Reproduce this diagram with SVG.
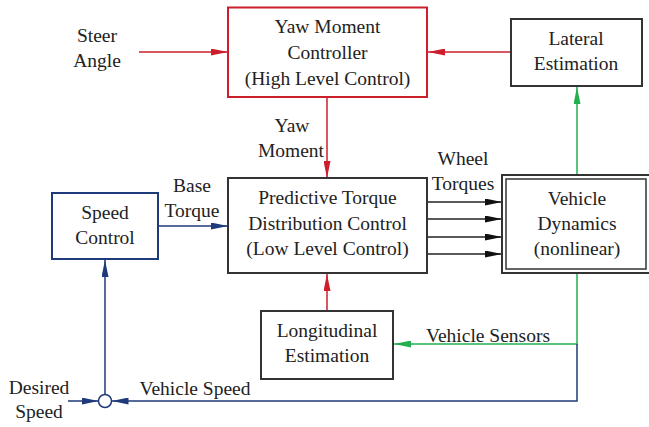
<svg xmlns="http://www.w3.org/2000/svg" width="649" height="427" viewBox="0 0 649 427">
<defs>
<style>
.box{fill:#fff;stroke:#333;stroke-width:2}
.red{stroke:#cc1f2b}
.blue{stroke:#1e3a7a}
</style>
<marker id="ar" markerUnits="userSpaceOnUse" markerWidth="17" markerHeight="7" refX="17" refY="3.5" orient="auto"><path d="M0,0 L17,3.5 L0,7 z" fill="#cc1f2b"/></marker>
<marker id="ab" markerUnits="userSpaceOnUse" markerWidth="17" markerHeight="7" refX="17" refY="3.5" orient="auto"><path d="M0,0 L17,3.5 L0,7 z" fill="#1e3a7a"/></marker>
<marker id="ag" markerUnits="userSpaceOnUse" markerWidth="17" markerHeight="7" refX="17" refY="3.5" orient="auto"><path d="M0,0 L17,3.5 L0,7 z" fill="#22b04f"/></marker>
<marker id="ak" markerUnits="userSpaceOnUse" markerWidth="17" markerHeight="7" refX="17" refY="3.5" orient="auto"><path d="M0,0 L17,3.5 L0,7 z" fill="#111"/></marker>
</defs>
<rect width="649" height="427" fill="#fff"/>
<g id="connectors" fill="none" stroke-width="1.5">
<g stroke="#cc1f2b" marker-end="url(#ar)">
<line x1="139" y1="52" x2="228" y2="52"/>
<line x1="511" y1="52" x2="428" y2="52"/>
<line x1="327" y1="97" x2="327" y2="178"/>
<line x1="327" y1="311" x2="327" y2="274"/>
</g>
<g stroke="#222" marker-end="url(#ak)">
<line x1="427" y1="202" x2="502" y2="202"/>
<line x1="427" y1="219" x2="502" y2="219"/>
<line x1="427" y1="237" x2="502" y2="237"/>
<line x1="427" y1="254" x2="502" y2="254"/>
</g>
<g stroke="#22b04f" marker-end="url(#ag)">
<line x1="577" y1="175" x2="577" y2="87"/>
<polyline points="577,273 577,344 394,344"/>
</g>
<g stroke="#1e3a7a" marker-end="url(#ab)">
<line x1="158" y1="226" x2="228" y2="226"/>
<polyline points="577,344 577,401 111.5,401"/>
<line x1="68" y1="401" x2="98.5" y2="401"/>
<line x1="105" y1="395" x2="105" y2="260"/>
</g>
<circle cx="105" cy="401" r="6.5" fill="#fff" stroke="#1e3a7a"/>
</g>
<g font-family="Liberation Serif, serif" font-size="19.5" fill="#222" text-anchor="middle">
<g id="labels">
<text x="97" y="42">Steer</text>
<text x="97" y="67">Angle</text>
<text x="292" y="132">Yaw</text>
<text x="291" y="157">Moment</text>
<text x="192" y="192">Base</text>
<text x="192" y="217">Torque</text>
<text x="463" y="165">Wheel</text>
<text x="463" y="190">Torques</text>
<text x="488" y="342">Vehicle Sensors</text>
<text x="195" y="395">Vehicle Speed</text>
<text x="39" y="394">Desired</text>
<text x="39" y="418">Speed</text>
</g>
<g id="yaw-controller">
<rect class="box red" x="228" y="7.5" width="199" height="89.5"/>
<text x="327.5" y="33">Yaw Moment</text>
<text x="327.5" y="59">Controller</text>
<text x="327.5" y="85">(High Level Control)</text>
</g>
<g id="lateral-estimation">
<rect class="box" x="511" y="19" width="131" height="67"/>
<text x="576" y="45">Lateral</text>
<text x="576" y="70">Estimation</text>
</g>
<g id="torque-distribution">
<rect class="box" x="228" y="178" width="199" height="95"/>
<text x="327.5" y="204">Predictive Torque</text>
<text x="327.5" y="230">Distribution Control</text>
<text x="327.5" y="255">(Low Level Control)</text>
</g>
<g id="speed-control">
<rect class="box blue" x="52" y="193" width="106" height="66"/>
<text x="105" y="219">Speed</text>
<text x="105" y="244">Control</text>
</g>
<g id="vehicle-dynamics">
<rect class="box" x="502" y="175" width="150" height="98"/>
<rect x="506" y="179" width="140" height="90" fill="none" stroke="#333" stroke-width="1.5"/>
<text x="577" y="205">Vehicle</text>
<text x="577" y="230">Dynamics</text>
<text x="577" y="255">(nonlinear)</text>
</g>
<g id="longitudinal-estimation">
<rect class="box" x="261" y="311" width="132" height="68"/>
<text x="327" y="337">Longitudinal</text>
<text x="327" y="362">Estimation</text>
</g>
</g>
</svg>
